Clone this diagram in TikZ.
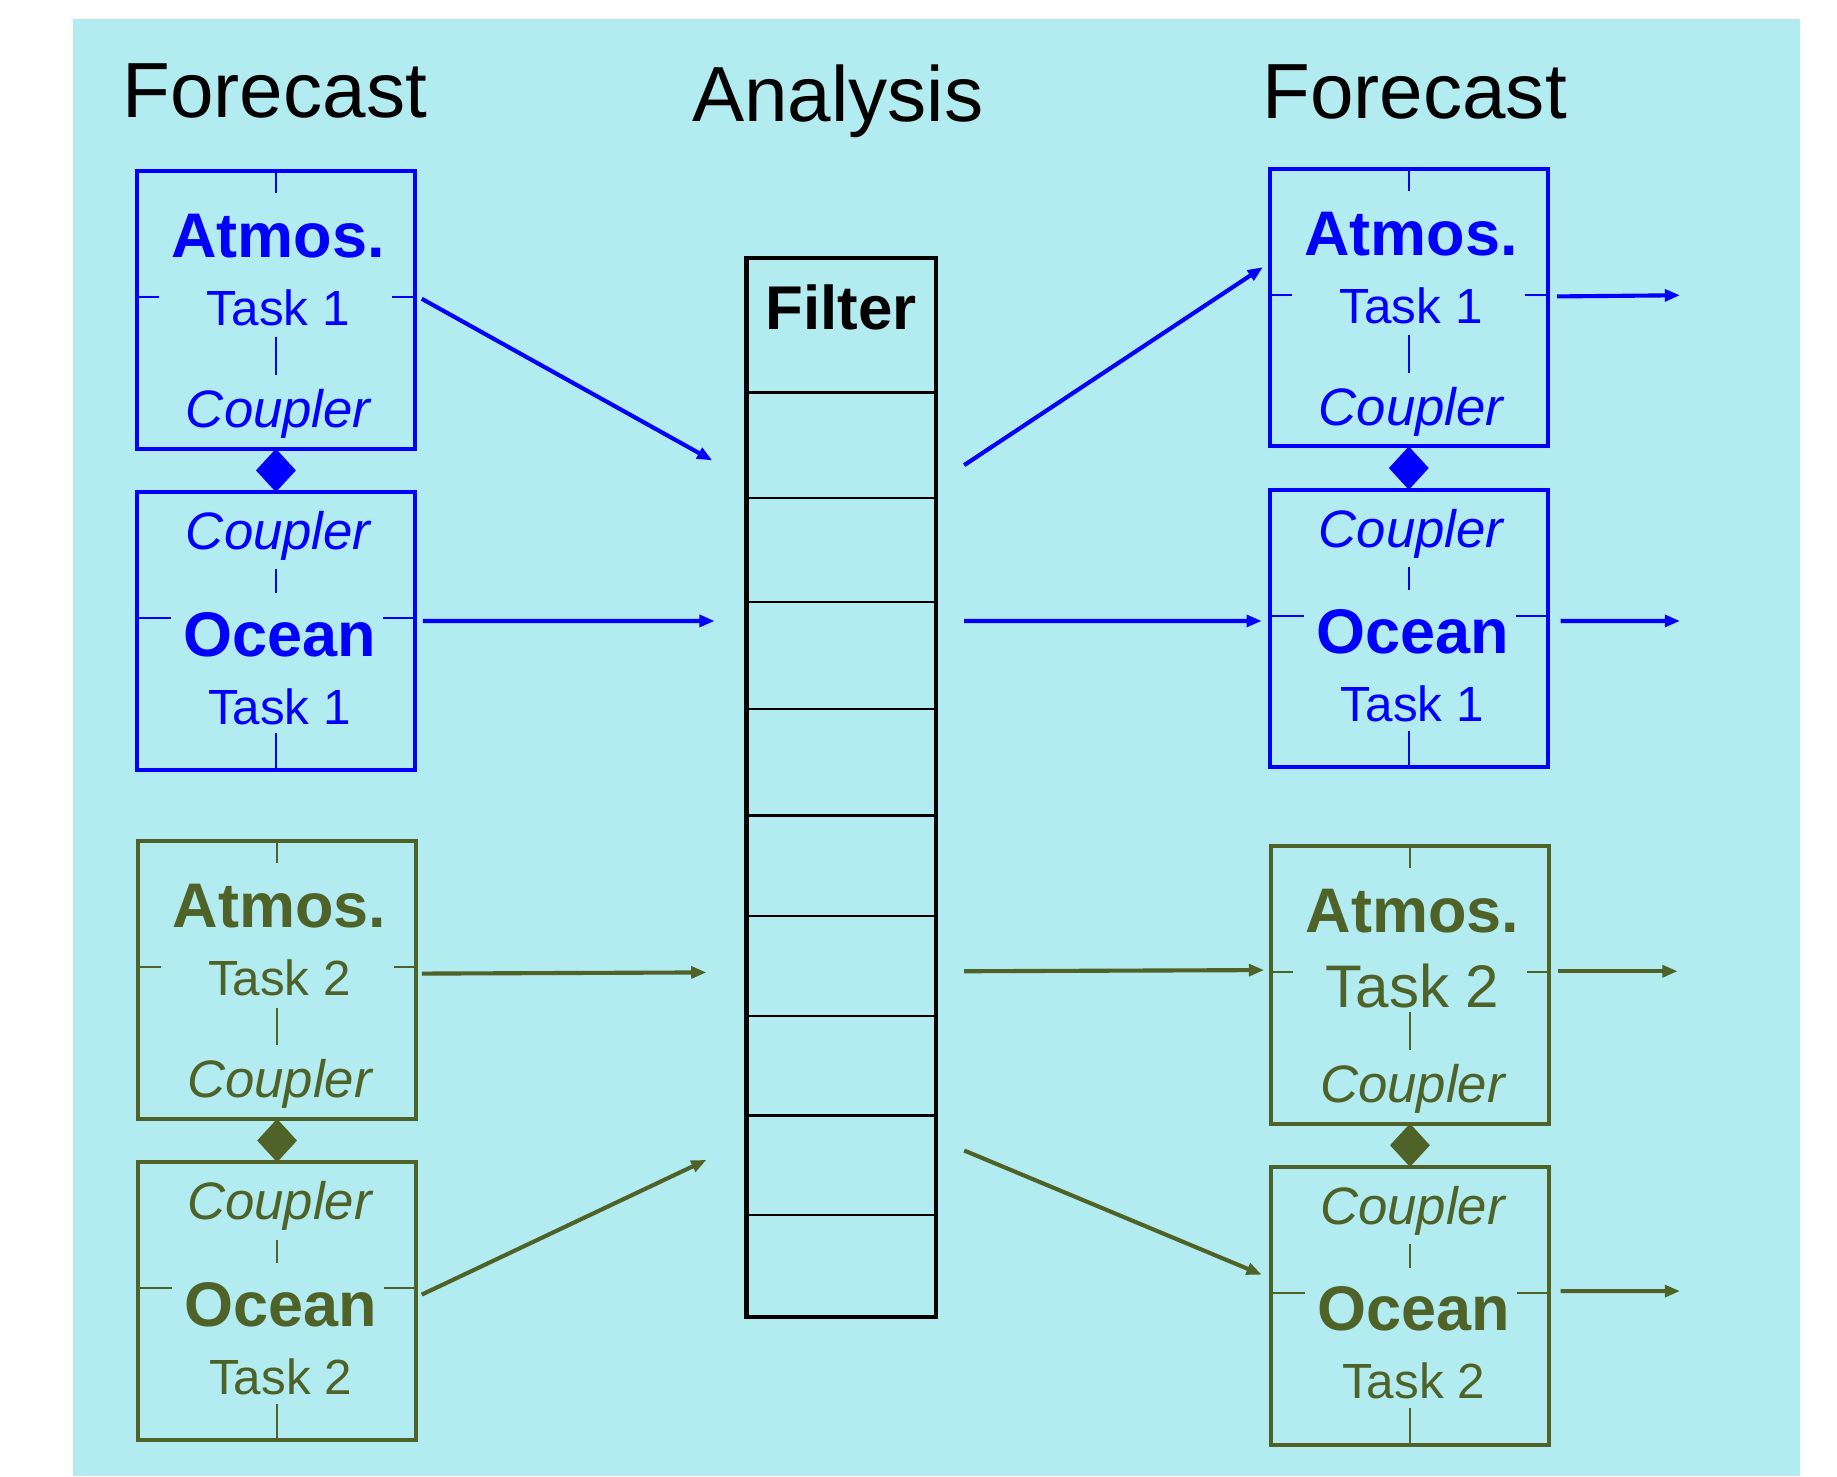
\documentclass[tikz,border=0pt]{standalone}
\usepackage{fontspec}
\setmainfont{Liberation Sans}
\usepackage{tikz}
\usetikzlibrary{shapes.geometric,arrows.meta,positioning}
\usepackage{xcolor}
\definecolor{seabg}{RGB}{178,235,240}
\definecolor{taskblue}{RGB}{0,0,255}
\definecolor{taskgreen}{RGB}{79,98,40}

\begin{document}
\begin{tikzpicture}[
    modelbox/.style={draw=#1, line width=1pt, minimum width=2.37cm, minimum height=2.37cm, inner sep=0pt, outer sep=0pt},
    boxtick/.style={draw=#1, line width=0.45pt},
    coupdiamond/.style={diamond, fill=#1, minimum width=0.34cm, minimum height=0.37cm, inner sep=0pt, outer sep=0pt},
    modelname/.style={text=#1, anchor=base, inner sep=0pt, font=\fontsize{15.3}{18}\selectfont\bfseries},
    tasklabel/.style={text=#1, anchor=base, inner sep=0pt, font=\fontsize{12}{14}\selectfont},
    couplabel/.style={text=#1, anchor=base, inner sep=0pt, font=\fontsize{12.8}{15}\selectfont\itshape},
    heading/.style={anchor=base, inner sep=0pt, font=\fontsize{19}{22}\selectfont},
    filterbox/.style={draw=black, line width=1.1pt, minimum width=1.62cm, minimum height=9.04cm, inner sep=0pt},
    filterline/.style={draw=black, line width=0.6pt},
    flowarrow/.style={draw=#1, line width=1pt, -{Triangle[length=1.3mm,width=1.0mm]}}
]
    \useasboundingbox (0,0) rectangle (15.68,-12.60);
    \fill[seabg] (0.62,-0.16) rectangle (15.36,-12.60);

    % headings
    \node[heading] (fcleft) at (2.345,-1.00) {Forecast};
    \node[heading] (analysis) at (7.15,-1.04) {Analysis};
    \node[heading] (fcright) at (12.075,-1.01) {Forecast};

    % model pairs: atmosphere box, coupler, ocean box
    \foreach \nm/\x/\y/\tk/\tsz/\tbl/\clr in {L1/2.355/2.645/1/12/0.135/taskblue, L2/2.365/8.365/2/12/0.135/taskgreen,
                                              R1/12.025/2.625/1/12/0.135/taskblue, R2/12.035/8.405/2/14.6/0.195/taskgreen}{
        \node[modelbox=\clr] (atm\nm) at (\x,-\y) {};
        \node[modelname=\clr] (atmname\nm) at ([xshift=0.02cm,yshift=0.445cm]atm\nm.center) {Atmos.};
        \node[tasklabel=\clr, font=\fontsize{\tsz}{16}\selectfont] (atmtask\nm) at ([xshift=0.02cm,yshift=-\tbl cm]atm\nm.center) {Task \tk};
        \node[couplabel=\clr] (atmcoup\nm) at ([xshift=0.02cm,yshift=-1.005cm]atm\nm.center) {Coupler};
        \draw[boxtick=\clr] (atm\nm.north) -- ++(0,-0.19);
        \draw[boxtick=\clr] ([yshift=0.11cm]atm\nm.west) -- ++(0.19,0);
        \draw[boxtick=\clr] ([yshift=0.11cm]atm\nm.east) -- ++(-0.19,0);
        \draw[boxtick=\clr] ([yshift=-0.235cm]atm\nm.center) -- ++(0,-0.32);

        \node[coupdiamond=\clr, below=0pt of atm\nm] (cpl\nm) {};

        \node[modelbox=\clr, below=0pt of cpl\nm] (oce\nm) {};
        \node[couplabel=\clr] (ocecoup\nm) at ([xshift=0.02cm,yshift=0.695cm]oce\nm.center) {Coupler};
        \node[modelname=\clr] (ocename\nm) at ([xshift=0.03cm,yshift=-0.215cm]oce\nm.center) {Ocean};
        \node[tasklabel=\clr] (ocetask\nm) at ([xshift=0.03cm,yshift=-0.795cm]oce\nm.center) {Task \tk};
        \draw[boxtick=\clr] ([yshift=0.525cm]oce\nm.center) -- ++(0,-0.20);
        \draw[boxtick=\clr] ([yshift=0.11cm]oce\nm.west) -- ++(0.29,0);
        \draw[boxtick=\clr] ([yshift=0.11cm]oce\nm.east) -- ++(-0.27,0);
        \draw[boxtick=\clr] (oce\nm.south) -- ++(0,0.31);
    }

    % analysis filter
    \node[filterbox] (filter) at (7.18,-6.72) {};
    \node[anchor=base, inner sep=0pt, font=\fontsize{15}{18}\selectfont\bfseries] (filtername) at (7.18,-2.81) {Filter};
    \foreach \y in {3.35,4.25,5.14,6.05,6.96,7.82,8.67,9.52,10.37}
        \draw[filterline] (6.37,-\y) -- (7.99,-\y);

    % free ends of the arrows
    \coordinate (inA1) at (6.08,-3.93);
    \coordinate (inO1) at (6.10,-5.30);
    \coordinate (inA2) at (6.03,-8.30);
    \coordinate (inO2) at (6.03,-9.90);
    \coordinate (outA1) at (8.23,-3.97);
    \coordinate (outO1) at (8.23,-5.30);
    \coordinate (outA2) at (8.23,-8.29);
    \coordinate (outO2) at (8.23,-9.82);
    \coordinate (nextA1) at (14.34,-2.52);
    \coordinate (nextO1) at (14.34,-5.30);
    \coordinate (nextA2) at (14.32,-8.29);
    \coordinate (nextO2) at (14.34,-11.02);

    % forecast -> analysis
    \draw[flowarrow=taskblue] ([xshift=0.06cm,yshift=0.095cm]atmL1.east) -- (inA1);
    \draw[flowarrow=taskblue] ([xshift=0.07cm,yshift=0.085cm]oceL1.east) -- (inO1);
    \draw[flowarrow=taskgreen] ([xshift=0.05cm,yshift=0.055cm]atmL2.east) -- (inA2);
    \draw[flowarrow=taskgreen] ([xshift=0.05cm,yshift=0.055cm]oceL2.east) -- (inO2);

    % analysis -> forecast
    \draw[flowarrow=taskblue] (outA1) -- ([xshift=-0.06cm,yshift=0.345cm]atmR1.west);
    \draw[flowarrow=taskblue] (outO1) -- ([xshift=-0.07cm,yshift=0.065cm]oceR1.west);
    \draw[flowarrow=taskgreen] (outA2) -- ([xshift=-0.06cm,yshift=0.125cm]atmR2.west);
    \draw[flowarrow=taskgreen] (outO2) -- ([xshift=-0.08cm,yshift=0.265cm]oceR2.west);

    % onward
    \draw[flowarrow=taskblue] ([xshift=0.08cm,yshift=0.095cm]atmR1.east) -- (nextA1);
    \draw[flowarrow=taskblue] ([xshift=0.11cm,yshift=0.065cm]oceR1.east) -- (nextO1);
    \draw[flowarrow=taskgreen] ([xshift=0.08cm,yshift=0.115cm]atmR2.east) -- (nextA2);
    \draw[flowarrow=taskgreen] ([xshift=0.10cm,yshift=0.125cm]oceR2.east) -- (nextO2);
\end{tikzpicture}
\end{document}
